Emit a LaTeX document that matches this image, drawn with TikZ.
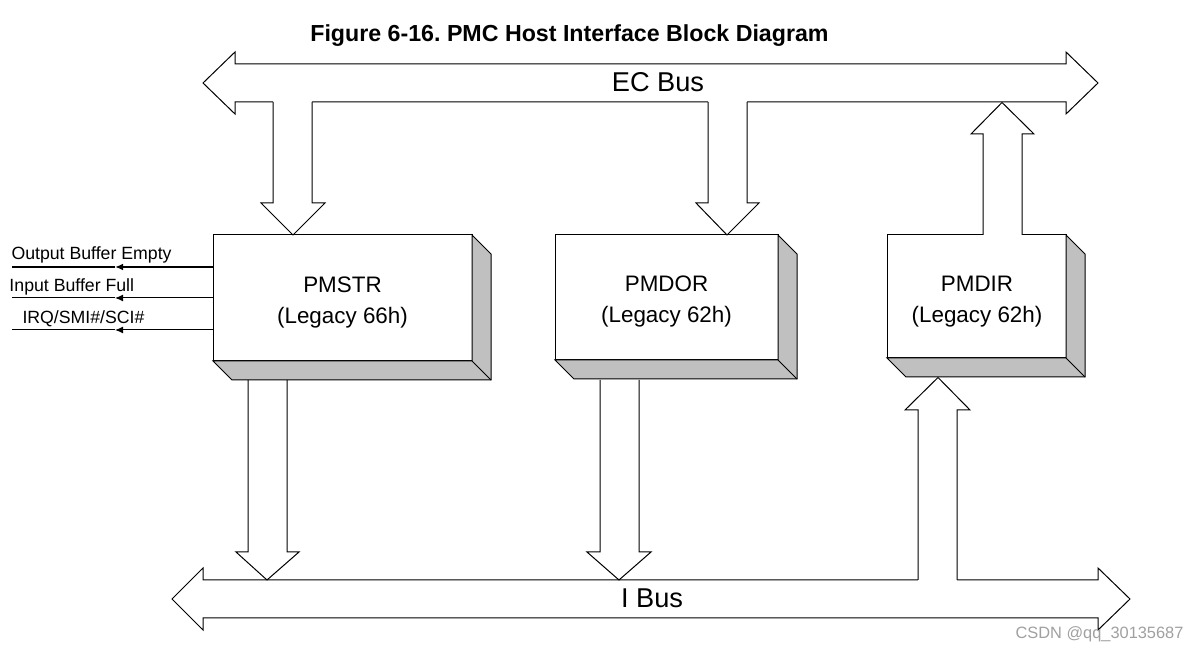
\documentclass[tikz,border=0pt]{standalone}
\usepackage{fontspec}
\setmainfont{Liberation Sans}
\usetikzlibrary{arrows.meta,calc}
\definecolor{sidegray}{HTML}{C0C0C0}
\definecolor{wmgray}{HTML}{A0A0A0}
\newcommand\drawsides[1]{%
  \fill[sidegray,draw=black] (#1.north east) -- ++(19,19) -- ($(#1.south east)+(19,19)$) -- ($(#1.south west)+(19,19)$) -- (#1.south west) -- (#1.south east) -- cycle;
  \draw (#1.south east) -- ++(19,19);}
\begin{document}
\frenchspacing
\begin{tikzpicture}[x=0.5pt,y=-0.5pt,line width=0.5pt,line join=miter,
  regbox/.style={draw=black,fill=white,inner sep=0pt,outer sep=0pt,anchor=north west},
  reglabel/.style={inner sep=0pt,align=center,font=\fontsize{11.2}{15.5}\selectfont},
  bus/.style={draw=black,fill=white},
  buslabel/.style={inner sep=0pt,font=\fontsize{13.6}{16}\selectfont},
  siglabel/.style={anchor=base west,inner sep=0pt,font=\fontsize{8.85}{10}\selectfont},
  sigarrow/.style={-{Latex[length=4pt,width=3.4pt]}},
]
\useasboundingbox (0,0) rectangle (1200,651);

% title
\node[inner sep=0pt,anchor=base,font=\bfseries\fontsize{11.6}{14}\selectfont] (title) at (569.5,41.5) {Figure 6-16. PMC Host Interface Block Diagram};

% EC bus
\draw[bus] (203,83) -- (235,52) -- (235,64) -- (1066,64) -- (1066,52) -- (1098,83) -- (1066,114) -- (1066,102) -- (235,102) -- (235,114) -- cycle;
\node[buslabel] (ecbus) at (658,82) {EC Bus};

% I bus
\draw[bus] (172,599) -- (203,568) -- (203,580) -- (1098,580) -- (1098,568) -- (1130,599) -- (1098,630) -- (1098,618) -- (203,618) -- (203,630) -- cycle;
\node[buslabel] (ibus) at (652,598) {I Bus};

% boxes
\node[regbox,minimum width=129.5pt,minimum height=63pt] (pmstr) at (213,235) {};
\drawsides{pmstr}
\node[reglabel] (pmstrl) at ($(pmstr.center)+(0,5)$) {PMSTR\\(Legacy 66h)};
\node[regbox,minimum width=111.5pt,minimum height=62.5pt] (pmdor) at (555,235) {};
\drawsides{pmdor}
\node[reglabel] (pmdorl) at ($(pmdor.center)+(0,4.5)$) {PMDOR\\(Legacy 62h)};
\node[regbox,minimum width=89.5pt,minimum height=61.5pt] (pmdir) at (887,235) {};
\drawsides{pmdir}
\node[reglabel] (pmdirl) at ($(pmdir.center)+(0.5,5)$) {PMDIR\\(Legacy 62h)};

% EC bus -> PMSTR
\fill[white] (273,101) -- (273,203) -- (261,203) -- (293,235) -- (325,203) -- (312,203) -- (312,101) -- cycle;
\draw (273,102) -- (273,203) -- (261,203) -- (293,235) -- (325,203) -- (312,203) -- (312,102);
% EC bus -> PMDOR
\fill[white] (708,101) -- (708,203) -- (696,203) -- (727,235) -- (759,203) -- (747,203) -- (747,101) -- cycle;
\draw (708,102) -- (708,203) -- (696,203) -- (727,235) -- (759,203) -- (747,203) -- (747,102);
% PMDIR -> EC bus
\fill[white] (983,236) -- (983,134) -- (971,134) -- (1002,102.5) -- (1034,134) -- (1022,134) -- (1022,236) -- cycle;
\draw (983,235) -- (983,134) -- (971,134) -- (1002,102.5) -- (1034,134) -- (1022,134) -- (1022,235);

% PMSTR -> I bus
\draw (248,380) -- (248,552) -- (236,552) -- (267,580) -- (299,552) -- (287,552) -- (287,380);
% PMDOR -> I bus
\draw (600,380) -- (600,552) -- (587,552) -- (619,580) -- (651,552) -- (639,552) -- (639,380);
% I bus -> PMDIR
\fill[white] (918,581) -- (918,410) -- (905,410) -- (938,377.5) -- (970,410) -- (957,410) -- (957,581) -- cycle;
\draw (918,580) -- (918,410) -- (905,410) -- (938,377.5) -- (970,410) -- (957,410) -- (957,580);

% status signals
\coordinate (s1) at (12,267);
\coordinate (s2) at (12,298);
\coordinate (s3) at (12,330);
\coordinate (m1) at (115,267);
\coordinate (m2) at (115,298);
\coordinate (m3) at (115,330);
\draw[sigarrow,line width=1pt] (pmstr.west |- s1) -- (m1);
\draw[line width=1pt] (m1) -- (s1);
\draw[sigarrow] (pmstr.west |- s2) -- (m2);
\draw (m2) -- (s2);
\draw[sigarrow] (pmstr.west |- s3) -- (m3);
\draw (m3) -- (s3);
\node[siglabel] (l1) at (11,260) {Output Buffer Empty};
\node[siglabel] (l2) at (9,292) {Input Buffer Full};
\node[siglabel] (l3) at (22,324) {IRQ/SMI\#/SCI\#};

% watermark
\node[anchor=base west,inner sep=0pt,text=wmgray,font=\fontsize{8.2}{10}\selectfont] (wm) at (1015,639) {CSDN @qq\_30135687};
\end{tikzpicture}
\end{document}
